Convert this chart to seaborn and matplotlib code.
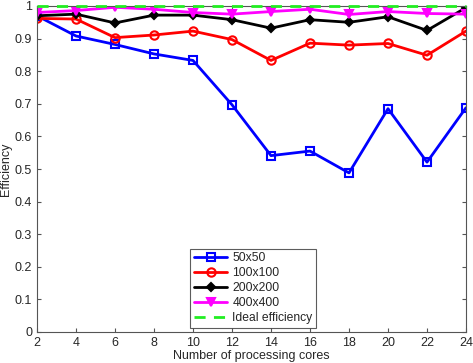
import numpy as np
import pandas as pd
import seaborn as sns
import matplotlib
matplotlib.use("Agg")
import matplotlib.pyplot as plt

cores = [2, 4, 6, 8, 10, 12, 14, 16, 18, 20, 22, 24]
eff_50 = [0.970, 0.908, 0.882, 0.853, 0.833, 0.697, 0.541, 0.555, 0.488, 0.685, 0.521, 0.688]
eff_100 = [0.962, 0.960, 0.903, 0.911, 0.923, 0.897, 0.833, 0.886, 0.880, 0.885, 0.849, 0.923]
eff_200 = [0.970, 0.975, 0.948, 0.972, 0.972, 0.958, 0.932, 0.958, 0.950, 0.967, 0.925, 0.995]
eff_400 = [0.980, 0.986, 0.996, 0.990, 0.980, 0.975, 0.983, 0.990, 0.974, 0.983, 0.977, 0.975]
ideal = [1.0] * len(cores)

sns.set_style("ticks")
plt.rcParams["font.family"] = ["Liberation Sans", "DejaVu Sans"]
plt.rcParams["xtick.direction"] = "in"
plt.rcParams["ytick.direction"] = "in"

df = pd.DataFrame({"cores": cores, "50x50": eff_50, "100x100": eff_100,
                   "200x200": eff_200, "400x400": eff_400, "Ideal efficiency": ideal})

fig = plt.figure(figsize=(4.73, 3.63), dpi=100)
ax = fig.add_axes([37 / 473, 31 / 363, 429 / 473, 326 / 363])

# name, colour, marker, size, filled
styles = [
    ("50x50", "#0000ff", "s", 6, False),
    ("100x100", "#ff0000", "o", 6, False),
    ("200x200", "#000000", "D", 4.5, True),
    ("400x400", "#ff00ff", "v", 6, True),
]
for name, col, mk, ms, filled in styles:
    sns.lineplot(data=df, x="cores", y=name, ax=ax, color=col, marker=mk,
                 linewidth=2, markersize=ms, markerfacecolor=col if filled else "none",
                 markeredgecolor=col, markeredgewidth=1.5, label=name)
sns.lineplot(data=df, x="cores", y="Ideal efficiency", ax=ax, color="#22ee22",
             linestyle="--", linewidth=2, label="Ideal efficiency")
ideal_line = ax.lines[-1]
ideal_line.set_dashes([4, 3])
ideal_line.set_clip_on(False)
ideal_line.set_zorder(3)

ax.set_xlim(2, 24)
ax.set_ylim(0, 1)
ax.set_xticks(range(2, 25, 2))
ax.set_yticks(np.arange(0, 1.01, 0.1))
ax.set_yticklabels(["0", "0.1", "0.2", "0.3", "0.4", "0.5", "0.6", "0.7", "0.8", "0.9", "1"])
ax.tick_params(labelsize=9, top=True, right=True, length=3, color="#555555")
ax.set_xlabel("Number of processing cores", fontsize=9, labelpad=1)
ax.set_ylabel("Efficiency", fontsize=9, labelpad=2)
for s in ax.spines.values():
    s.set_color("#555555")
    s.set_linewidth(0.8)

leg = ax.legend(loc="lower left", bbox_to_anchor=(153 / 429, 0.012), fontsize=8.7,
                frameon=True, fancybox=False, edgecolor="#333333", handlelength=2.8,
                borderpad=0.3, labelspacing=0.25, handletextpad=0.4, borderaxespad=0)
leg.get_frame().set_linewidth(0.8)

fig.savefig("out.png", dpi=100)
